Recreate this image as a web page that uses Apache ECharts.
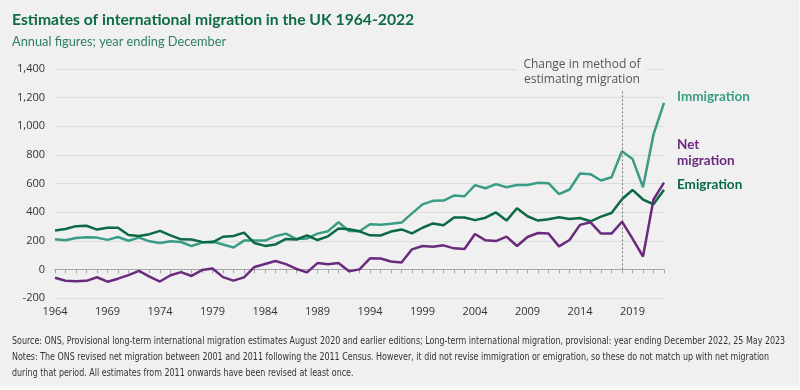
<!DOCTYPE html>
<html>
<head>
<meta charset="utf-8">
<script src="https://cdn.jsdelivr.net/npm/echarts@6/dist/echarts.min.js"></script>
<style>
html,body{margin:0;padding:0;background:#f0f0f0;}
#chart{width:800px;height:390px;}
</style>
</head>
<body>
<div id="chart"></div>
<script>
const years = [];
for (let y = 1964; y <= 2022; y++) years.push(String(y));

const immigration = [211,204,219,225,222,206,226,200,222,196,184,197,191,163,187,195,174,153,201,202,
  201,232,250,212,216,250,267,329,268,266,315,312,318,327,391,454,479,481,516,511,
  589,567,596,574,590,590,605,602,525,558,670,665,621,644,826,772,574,943,1163];
const emigration = [271,282,302,305,278,291,291,240,233,246,269,238,210,209,192,189,228,233,257,184,
  164,174,213,209,237,205,231,285,281,266,238,237,264,279,251,291,321,309,363,363,
  344,361,398,341,427,371,341,350,364,352,359,336,369,394,490,555,488,455,557];
const netMigration = [-59,-79,-83,-80,-55,-86,-65,-40,-11,-50,-85,-41,-19,-46,-5,6,-54,-79,-56,17,
  38,58,37,3,-21,44,36,44,-13,0,77,76,55,48,140,163,158,168,147,142,
  247,203,198,229,163,226,254,250,161,205,311,329,250,250,333,215,90,488,606];

const methodChangeYear = '2018';
const titleText = 'Estimates of international migration in the UK 1964-2022';
const subtitleText = 'Annual figures; year ending December';
const sourceLines = [
  'Source: ONS, Provisional long-term international migration estimates August 2020 and earlier editions; Long-term international migration, provisional: year ending December 2022, 25 May 2023',
  'Notes: The ONS revised net migration between 2001 and 2011 following the 2011 Census. However, it did not revise immigration or emigration, so these do not match up with net migration',
  'during that period. All estimates from 2011 onwards have been revised at least once.'
];

const cImm = '#3a9c84', cEmi = '#0b6a43', cNet = '#6a2a7e', cTitle = '#0d6b45';
const footFont = '10px "DejaVu Sans Condensed", sans-serif';

const chart = echarts.init(document.getElementById('chart'));
chart.setOption({
  backgroundColor: '#f0f0f0',
  animation: false,
  textStyle: { fontFamily: 'Open Sans' },
  grid: { left: 55, right: 136, top: 69, bottom: 92, containLabel: false },
  xAxis: {
    type: 'category', data: years, boundaryGap: false,
    axisLine: { onZero: true, lineStyle: { color: '#a6a6a6', width: 1 } },
    axisTick: { show: true, interval: 0, length: 4, lineStyle: { color: '#a6a6a6' } },
    axisLabel: { interval: 4, margin: 8, color: '#333', fontSize: 11, fontFamily: 'Open Sans' },
    splitLine: { show: false }
  },
  yAxis: {
    type: 'value', min: -200, max: 1400, interval: 200,
    axisLine: { show: false }, axisTick: { show: false },
    axisLabel: { color: '#333', fontSize: 11, margin: 10, fontFamily: 'Open Sans',
      formatter: v => v.toLocaleString('en-US') },
    splitLine: { lineStyle: { color: '#dcdcdc', width: 1 } }
  },
  series: [
    { name: 'Immigration', type: 'line', data: immigration, symbol: 'none',
      lineStyle: { color: cImm, width: 2.5 }, z: 3 },
    { name: 'Emigration', type: 'line', data: emigration, symbol: 'none',
      lineStyle: { color: cEmi, width: 2.5 }, z: 4 },
    { name: 'Net migration', type: 'line', data: netMigration, symbol: 'none',
      lineStyle: { color: cNet, width: 2.5 }, z: 5,
      markLine: { silent: true, symbol: 'none', label: { show: false },
        lineStyle: { color: '#777', type: [2, 2], width: 1 },
        data: [[{ coord: [methodChangeYear, 0] }, { coord: [methodChangeYear, 1250] }]] } }
  ],
  graphic: [
    { type: 'rect', shape: { x: 0, y: 386, width: 800, height: 4 }, style: { fill: '#f8f8f8' } },
    { type: 'rect', shape: { x: 799, y: 0, width: 1, height: 390 }, style: { fill: '#f8f8f8' } },
    { type: 'text', left: 12, top: 12, style: { text: titleText, fill: cTitle, font: 'bold 15.7px Lato' } },
    { type: 'text', left: 12, top: 35, style: { text: subtitleText, fill: '#2e8060', font: '12.8px Lato' } },
    { type: 'rect', shape: { x: 516, y: 56, width: 130, height: 34 }, style: { fill: '#f0f0f0' }, z: 10 },
    { type: 'text', x: 582, y: 65, z: 11, style: { text: 'Change in method of', fill: '#555', font: '12px "Open Sans"', align: 'center', verticalAlign: 'middle' } },
    { type: 'text', x: 582, y: 80, z: 11, style: { text: 'estimating migration', fill: '#555', font: '12px "Open Sans"', align: 'center', verticalAlign: 'middle' } },
    { type: 'text', x: 677, y: 97, style: { text: 'Immigration', fill: cImm, font: 'bold 13.5px Lato', verticalAlign: 'middle' } },
    { type: 'text', x: 677, y: 145, style: { text: 'Net', fill: cNet, font: 'bold 13.5px Lato', verticalAlign: 'middle' } },
    { type: 'text', x: 677, y: 161, style: { text: 'migration', fill: cNet, font: 'bold 13.5px Lato', verticalAlign: 'middle' } },
    { type: 'text', x: 677, y: 185, style: { text: 'Emigration', fill: cEmi, font: 'bold 13.5px Lato', verticalAlign: 'middle' } },
    { type: 'text', x: 12, y: 341, scaleX: 0.885, style: { text: sourceLines[0], fill: '#333', font: footFont, verticalAlign: 'middle' } },
    { type: 'text', x: 12, y: 357, scaleX: 0.885, style: { text: sourceLines[1], fill: '#333', font: footFont, verticalAlign: 'middle' } },
    { type: 'text', x: 12, y: 373, scaleX: 0.885, style: { text: sourceLines[2], fill: '#333', font: footFont, verticalAlign: 'middle' } }
  ]
});
</script>
</body>
</html>
